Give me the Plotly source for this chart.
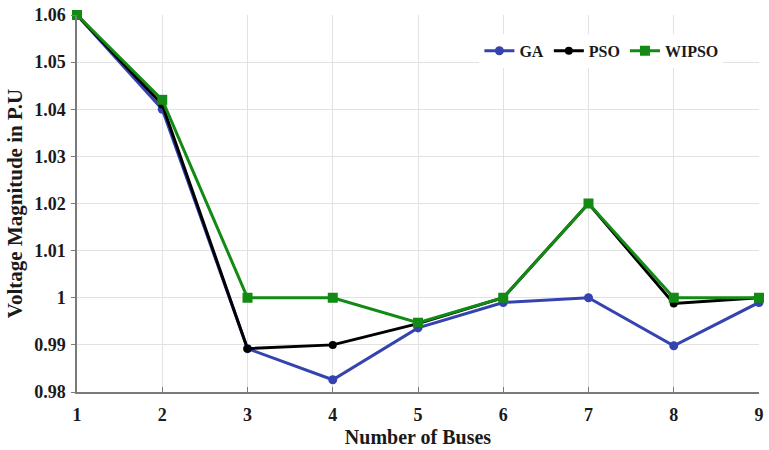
import plotly.graph_objects as go

# Bus voltage magnitudes (p.u.) for each optimisation method
buses = [1, 2, 3, 4, 5, 6, 7, 8, 9]
ga_voltage = [1.060, 1.040, 0.9892, 0.9826, 0.9936, 0.9990, 1.000, 0.9898, 0.9990]
pso_voltage = [1.060, 1.041, 0.9892, 0.9900, 0.9945, 1.000, 1.020, 0.9988, 1.000]
wipso_voltage = [1.060, 1.042, 1.000, 1.000, 0.9947, 1.000, 1.020, 1.000, 1.000]

y_ticks = [0.98, 0.99, 1.00, 1.01, 1.02, 1.03, 1.04, 1.05, 1.06]
y_tick_text = ["0.98", "0.99", "1", "1.01", "1.02", "1.03", "1.04", "1.05", "1.06"]

FONT = "Liberation Serif, Times New Roman, serif"
TEXT = "#1a1a1a"

fig = go.Figure()
fig.add_trace(go.Scatter(
    x=buses, y=ga_voltage, name="GA", mode="lines+markers",
    line=dict(color="#3443b0", width=3),
    marker=dict(symbol="circle", size=9, color="#3443b0"),
    cliponaxis=False,
))
fig.add_trace(go.Scatter(
    x=buses, y=pso_voltage, name="PSO", mode="lines+markers",
    line=dict(color="#000000", width=3),
    marker=dict(symbol="circle", size=8, color="#000000"),
    cliponaxis=False,
))
fig.add_trace(go.Scatter(
    x=buses, y=wipso_voltage, name="WIPSO", mode="lines+markers",
    line=dict(color="#138a13", width=3),
    marker=dict(symbol="square", size=10, color="#138a13"),
    cliponaxis=False,
))

fig.update_layout(
    width=769, height=450,
    margin=dict(l=77, r=10, t=15, b=58),
    paper_bgcolor="white", plot_bgcolor="white",
    font=dict(family=FONT, size=16, color=TEXT, weight="bold"),
    legend=dict(
        orientation="h", x=0.59, y=0.905, xanchor="left", yanchor="middle",
        bgcolor="white", borderwidth=0,
        font=dict(family=FONT, size=16, color=TEXT, weight="bold"),
        tracegroupgap=0,
    ),
    showlegend=True,
)

fig.update_xaxes(
    range=[1, 9], tickvals=buses, ticktext=[str(b) for b in buses],
    automargin=False,
    showgrid=True, gridcolor="#e2e2e2", gridwidth=1,
    showline=True, linecolor="#7a7a7a", linewidth=1.5,
    ticks="inside", ticklen=5, tickcolor="#7a7a7a",
    ticklabelstandoff=6,
    zeroline=False,
    tickfont=dict(family=FONT, size=18, color=TEXT, weight="bold"),
    title=dict(text="Number of Buses", standoff=6,
               font=dict(family=FONT, size=20, color=TEXT, weight="bold")),
)
fig.update_yaxes(
    range=[0.98, 1.06], tickvals=y_ticks, ticktext=y_tick_text,
    automargin=False,
    showgrid=True, gridcolor="#e2e2e2", gridwidth=1,
    showline=True, linecolor="#7a7a7a", linewidth=1.5,
    ticks="outside", ticklen=4, tickcolor="#7a7a7a",
    ticklabelstandoff=2,
    zeroline=False,
    tickfont=dict(family=FONT, size=18, color=TEXT, weight="bold"),
    title=dict(text="Voltage Magnitude in P.U", standoff=6,
               font=dict(family=FONT, size=21, color=TEXT, weight="bold")),
)

fig.write_html("out.html")
